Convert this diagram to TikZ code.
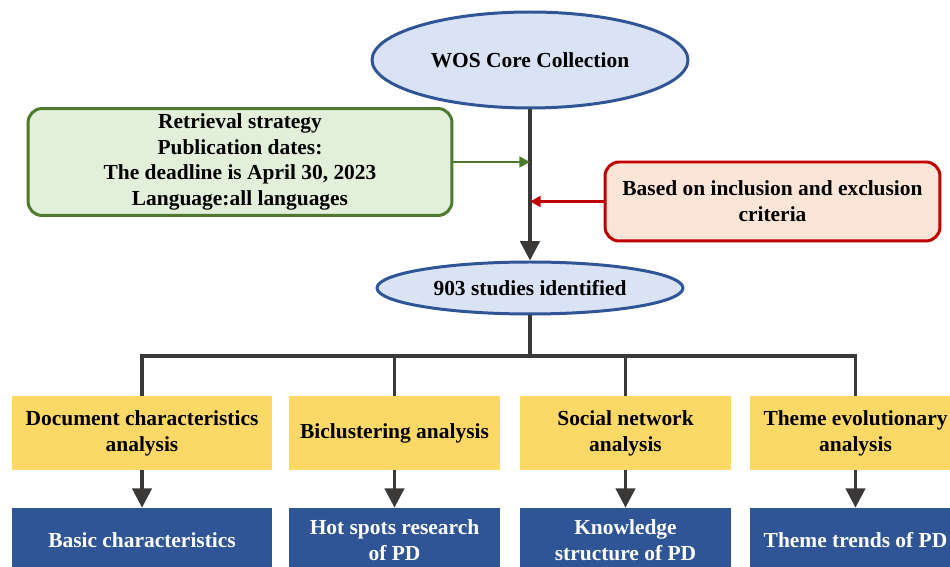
\documentclass[tikz,border=0pt]{standalone}
\usepackage{fontspec}
\setmainfont{Liberation Serif}
\usetikzlibrary{shapes.geometric,arrows.meta}
\definecolor{ovalfill}{HTML}{DAE3F3}
\definecolor{ovaldraw}{HTML}{2F5597}
\definecolor{greenfill}{HTML}{E2EFDA}
\definecolor{greendraw}{HTML}{4E7A2E}
\definecolor{redfill}{HTML}{FBE5D6}
\definecolor{reddraw}{HTML}{C00000}
\definecolor{stepfill}{HTML}{FCD867}
\definecolor{resfill}{HTML}{2F5597}
\definecolor{linegrey}{HTML}{3B3838}
\tikzset{
  txt/.style={font=\fontsize{12.2}{14.7}\selectfont\bfseries, align=center, inner sep=0pt},
  oval/.style={txt, ellipse, draw=ovaldraw, fill=ovalfill, line width=1.7pt},
  note/.style={txt, rounded corners=8pt, line width=1.7pt},
  stepbox/.style={txt, fill=stepfill, minimum width=4.22cm, minimum height=1.48cm},
  resbox/.style={txt, fill=resfill, text=white, minimum width=4.22cm, minimum height=1.28cm},
  flow/.style={draw=linegrey, line width=2pt},
  flowarrow/.style={flow, -{Triangle[width=11pt,length=11pt]}}
}
\begin{document}
\begin{tikzpicture}[x=0.02cm, y=-0.02cm]
  \useasboundingbox (0,0) rectangle (950,567);
  \clip (0,0) rectangle (950,567);
  \node[oval, minimum width=6.32cm, minimum height=1.92cm] (wos) at (530,60) {WOS Core Collection};
  \node[note, draw=greendraw, fill=greenfill, minimum width=8.48cm, minimum height=2.14cm] (strategy) at (240,162)
    {Retrieval strategy\\Publication dates:\\The deadline is April 30, 2023\\Language:all languages};
  \node[note, draw=reddraw, fill=redfill, minimum width=6.7cm, minimum height=1.58cm] (criteria) at (772.5,201.5)
    {Based on inclusion and exclusion\\criteria};
  \node[oval, minimum width=6.12cm, minimum height=1.04cm] (studies) at (530,288) {903 studies identified};

  \node[stepbox, minimum width=5.2cm] (doc) at (142,433) {Document characteristics\\analysis};
  \node[stepbox] (bic) at (394.5,433) {Biclustering analysis};
  \node[stepbox] (soc) at (625.5,433) {Social network\\analysis};
  \node[stepbox] (theme) at (855.5,433) {Theme evolutionary\\analysis};

  \node[resbox, minimum width=5.2cm] (basic) at (142,540) {Basic characteristics};
  \node[resbox] (hot) at (394.5,540) {Hot spots research\\of PD};
  \node[resbox] (know) at (625.5,540) {Knowledge\\structure of PD};
  \node[resbox] (trend) at (855.5,540) {Theme trends of PD};

  \coordinate (split) at (530,356);
  \draw[flowarrow] (wos.south) -- (studies.north);
  \draw[draw=greendraw, line width=1.7pt, -{Triangle[width=6pt,length=6pt]}] (strategy.east) -- (strategy.east -| wos.south);
  \draw[draw=reddraw, line width=1.7pt, -{Triangle[width=6pt,length=6pt]}] (criteria.west) -- (criteria.west -| wos.south);
  \draw[flow] (studies.south) -- (split);
  \draw[flow] (doc.north) |- (split) -| (theme.north);
  \draw[flow] (bic.north) -- (bic.north |- split);
  \draw[flow] (soc.north) -- (soc.north |- split);
  \draw[flowarrow] (doc) -- (basic);
  \draw[flowarrow] (bic) -- (hot);
  \draw[flowarrow] (soc) -- (know);
  \draw[flowarrow] (theme) -- (trend);
\end{tikzpicture}
\end{document}
